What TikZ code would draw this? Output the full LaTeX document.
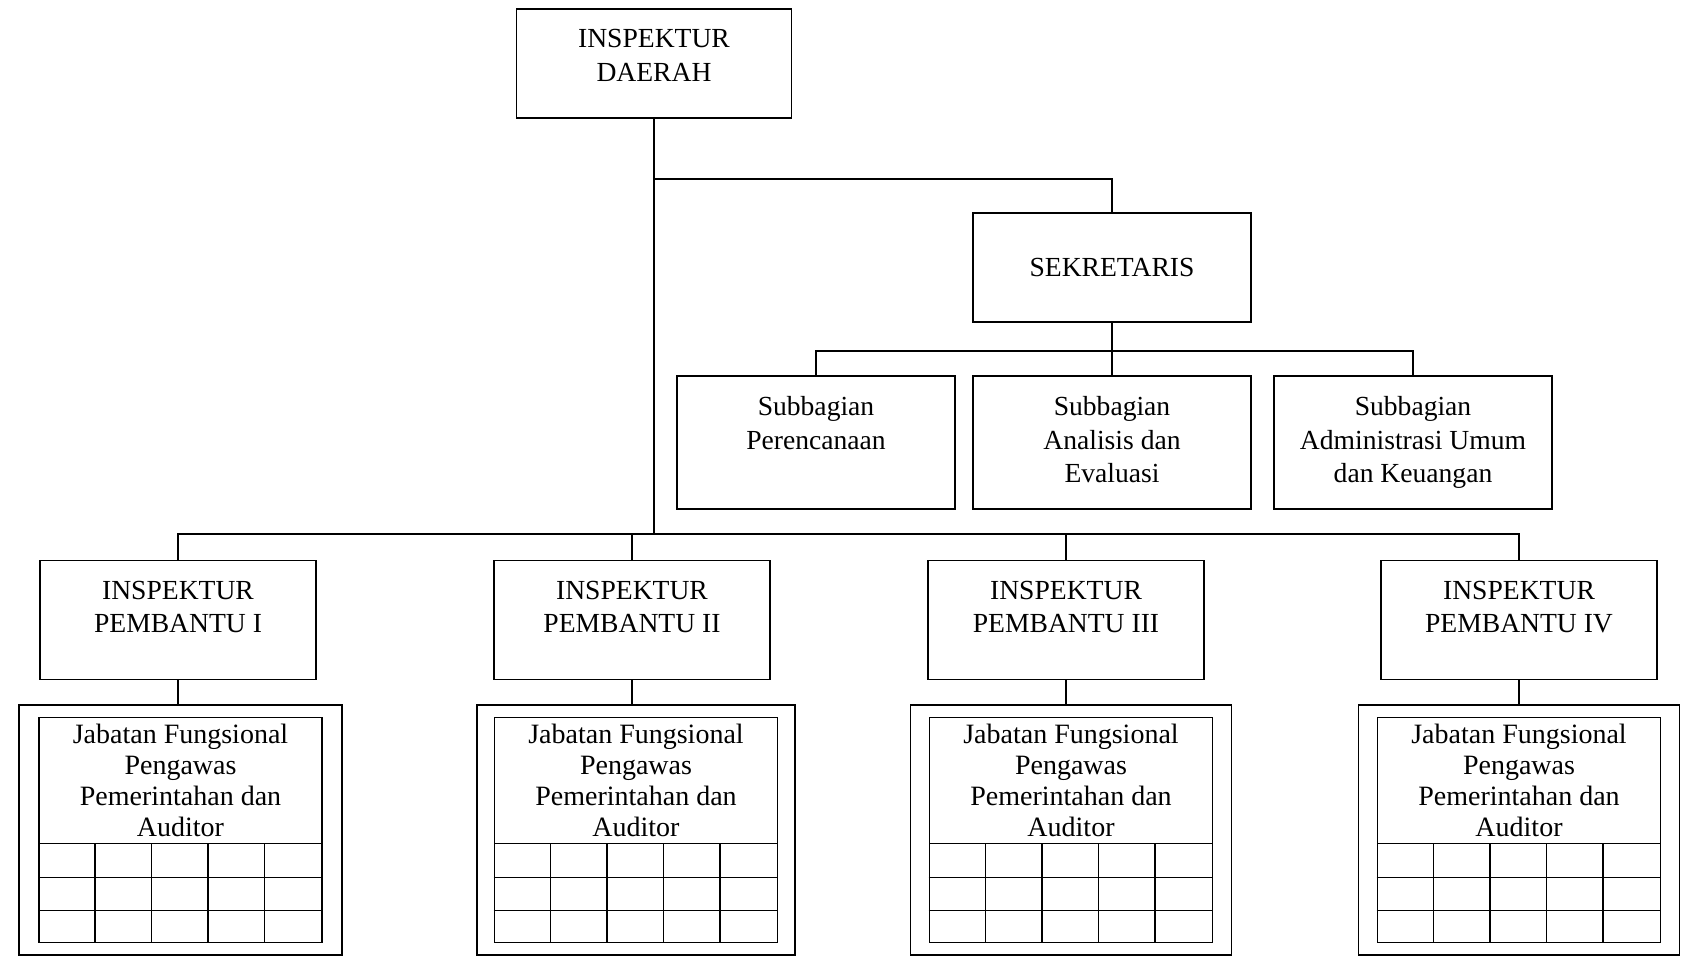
\documentclass[tikz,border=0pt]{standalone}
\usepackage{fontspec}
\setmainfont{Liberation Serif}
\usetikzlibrary{positioning,calc}
\newcommand{\orgfont}{\fontsize{13.8}{16.8}\selectfont}
\newcommand{\jffont}{\fontsize{14}{15.5}\selectfont}
\tikzset{
  orgline/.style={line width=0.9pt},
  unitbox/.style={draw=black,line width=0.9pt,align=center,inner sep=0pt,font=\orgfont},
  headbox/.style={unitbox,minimum width=138pt,minimum height=54.5pt},
  subbox/.style={unitbox,minimum width=139pt,minimum height=66.5pt},
  ipbox/.style={unitbox,minimum width=138pt,minimum height=59.5pt},
  jfouter/.style={draw=black,line width=0.9pt,minimum height=125pt,inner sep=0pt},
  jfinner/.style={draw=black,line width=0.8pt,minimum width=141.5pt,minimum height=112.5pt,inner sep=0pt},
  jftext/.style={draw=black,line width=0.8pt,minimum width=141.5pt,minimum height=63pt,
                 inner sep=0pt,align=center,font=\jffont},
  toptext/.style={anchor=north,align=center,inner sep=0pt,font=\orgfont,yshift=-10.5pt}
}
\begin{document}
\begin{tikzpicture}[x=0.5pt,y=-0.5pt]
\useasboundingbox (0,0) rectangle (1684,958);

% pimpinan dan sekretariat
\node[headbox,minimum width=137.5pt,label={[toptext,name=inspektur-t]north:INSPEKTUR\\DAERAH}] (inspektur) at (654,63.5) {};
\node[headbox,minimum width=139pt] (sekretaris) at (1112,267.5) {SEKRETARIS};

\node[subbox,label={[toptext,name=subperencanaan-t]north:Subbagian\\Perencanaan}] (subperencanaan) at (816,442.5) {};
\node[subbox,label={[toptext,name=subevaluasi-t]north:Subbagian\\Analisis dan\\Evaluasi}] (subevaluasi) at (1112,442.5) {};
\node[subbox,label={[toptext,name=subumum-t]north:Subbagian\\Administrasi Umum\\dan Keuangan}] (subumum) at (1413,442.5) {};

% inspektur pembantu
\foreach \n/\xx/\nr in {1/178/I, 2/632/II, 3/1066/III, 4/1519/IV}
  \node[ipbox,label={[toptext,name=ip\n-t]north:INSPEKTUR\\PEMBANTU \nr}] (ip\n) at (\xx,620) {};

% jabatan fungsional
\foreach \n/\xx/\ww in {1/180.5/161.5, 2/636/159, 3/1071/160.5, 4/1519/160.5}{
  \node[jfouter,minimum width=\ww pt] (jf\n) at (\xx,830) {};
  \node[jfinner] (jfin\n) at (\xx,830) {};
  \node[jftext,anchor=north] (jftx\n) at (jfin\n.north)
    {Jabatan Fungsional\\Pengawas\\Pemerintahan dan\\Auditor};
  \foreach \r in {1,2}
    \draw[line width=0.8pt] ($(jftx\n.south west)+(0pt,-\r*16.5pt)$) -- ($(jftx\n.south east)+(0pt,-\r*16.5pt)$);
  \foreach \c in {1,...,4}
    \draw[line width=0.8pt] ($(jftx\n.south west)+(\c*28.3pt,0pt)$) -- ($(jfin\n.south west)+(\c*28.3pt,0pt)$);
}

% garis hubungan
\coordinate (upbus) at (654,179);
\coordinate (midbus) at (1112,351);
\coordinate (lowbus) at (654,534);
\draw[orgline] (inspektur.south) -- (lowbus);
\draw[orgline] (upbus) -| (sekretaris.north);
\draw[orgline] (sekretaris.south) -- (midbus);
\draw[orgline] (subperencanaan.north) |- (midbus) -| (subumum.north);
\draw[orgline] (subevaluasi.north) -- (midbus);
\draw[orgline] (ip1.north) |- (lowbus) -| (ip4.north);
\draw[orgline] (ip2.north) -- (ip2.north |- lowbus);
\draw[orgline] (ip3.north) -- (ip3.north |- lowbus);
\foreach \n in {1,...,4}
  \draw[orgline] (ip\n.south) -- (ip\n.south |- jf\n.north);
\end{tikzpicture}
\end{document}
